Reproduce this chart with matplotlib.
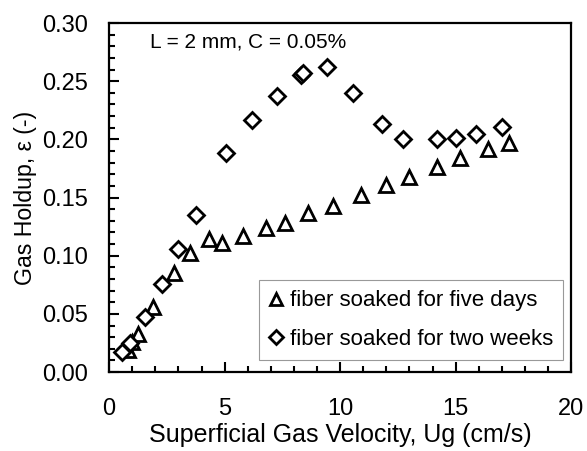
import numpy as np
import matplotlib.pyplot as plt
from matplotlib.ticker import MultipleLocator

plt.rcParams['font.family'] = ['Liberation Sans', 'DejaVu Sans']

# fiber soaked for five days
ug_5d = [0.8, 1.0, 1.25, 1.9, 2.8, 3.5, 4.3, 4.9, 5.8, 6.8, 7.6, 8.6, 9.7,
         10.9, 12.0, 13.0, 14.2, 15.2, 16.4, 17.3]
eps_5d = [0.019, 0.026, 0.033, 0.056, 0.085, 0.102, 0.114, 0.111, 0.117,
          0.124, 0.128, 0.137, 0.143, 0.152, 0.161, 0.168, 0.176, 0.184,
          0.192, 0.197]

# fiber soaked for two weeks
ug_2w = [0.55, 0.9, 1.55, 2.3, 3.0, 3.75, 5.05, 6.2, 7.25, 8.3, 8.4, 9.45,
         10.55, 11.8, 12.7, 14.2, 15.0, 15.9, 17.0]
eps_2w = [0.017, 0.025, 0.047, 0.076, 0.106, 0.135, 0.188, 0.217, 0.237,
          0.255, 0.257, 0.262, 0.240, 0.213, 0.200, 0.200, 0.201, 0.205,
          0.211]

fig = plt.figure(figsize=(5.87, 4.51), dpi=100)
ax = fig.add_axes([0.186, 0.175, 0.787, 0.774])

ax.plot(ug_5d, eps_5d, linestyle='none', marker='^', markersize=10.5,
        markerfacecolor='white', markeredgecolor='black', markeredgewidth=2,
        label='fiber soaked for five days')
ax.plot(ug_2w, eps_2w, linestyle='none', marker='D', markersize=8,
        markerfacecolor='white', markeredgecolor='black', markeredgewidth=2,
        label='fiber soaked for two weeks')

ax.set_xlim(0, 20)
ax.set_ylim(0, 0.30)
ax.xaxis.set_major_locator(MultipleLocator(5))
ax.xaxis.set_minor_locator(MultipleLocator(1))
ax.yaxis.set_major_locator(MultipleLocator(0.05))
ax.yaxis.set_minor_locator(MultipleLocator(0.01))
ax.yaxis.set_major_formatter(plt.FormatStrFormatter('%.2f'))
ax.tick_params(which='both', direction='in', top=False, right=False,
               labelsize=17, width=1.5)
ax.tick_params(which='major', length=7)
ax.tick_params(which='minor', length=4)
ax.tick_params(axis='y', which='major', pad=15)
ax.tick_params(axis='x', which='major', pad=19)
for sp in ax.spines.values():
    sp.set_linewidth(1.6)

ax.set_xlabel('Superficial Gas Velocity, Ug (cm/s)', fontsize=18, labelpad=2)
ax.set_ylabel('Gas Holdup, \u03b5 (-)', fontsize=16.7, labelpad=4)

ax.text(0.088, 0.945, 'L = 2 mm, C = 0.05%', transform=ax.transAxes,
        fontsize=15, va='center', ha='left')

leg = ax.legend(loc='lower right', bbox_to_anchor=(0.983, 0.034), fontsize=16,
                frameon=True, fancybox=False, handletextpad=0.35,
                handlelength=0.6, borderpad=0.45, labelspacing=0.8,
                borderaxespad=0, markerscale=0.85)
leg.get_frame().set_edgecolor('#808080')
leg.get_frame().set_linewidth(0.8)

fig.savefig('out.png', dpi=100)
